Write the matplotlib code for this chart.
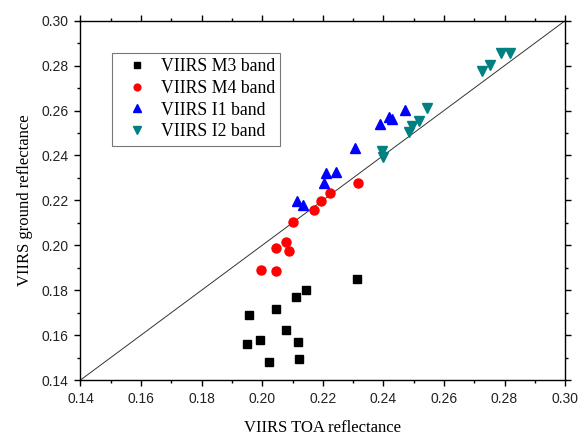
import matplotlib
matplotlib.use("Agg")
import matplotlib.pyplot as plt
from matplotlib.ticker import MultipleLocator, FormatStrFormatter

# TOA vs ground reflectance for each VIIRS band
m3_toa = [0.2312, 0.2146, 0.2113, 0.2047, 0.1957, 0.2079, 0.1993, 0.1949, 0.2118, 0.2021, 0.2121]
m3_ground = [0.1848, 0.1801, 0.1771, 0.1717, 0.1688, 0.1623, 0.1578, 0.1559, 0.1568, 0.1481, 0.1494]

m4_toa = [0.1995, 0.2047, 0.2047, 0.2078, 0.2089, 0.2101, 0.2171, 0.2195, 0.2225, 0.2315]
m4_ground = [0.1889, 0.1886, 0.1986, 0.2016, 0.1976, 0.2105, 0.2157, 0.2198, 0.2234, 0.2276]

i1_toa = [0.2116, 0.2136, 0.2204, 0.2211, 0.2244, 0.2307, 0.2390, 0.2420, 0.2429, 0.2470]
i1_ground = [0.2198, 0.2179, 0.2279, 0.2320, 0.2327, 0.2434, 0.2538, 0.2570, 0.2561, 0.2602]

i2_toa = [0.2395, 0.2400, 0.2486, 0.2494, 0.2519, 0.2545, 0.2727, 0.2752, 0.2789, 0.2818]
i2_ground = [0.2421, 0.2394, 0.2506, 0.2530, 0.2554, 0.2610, 0.2776, 0.2802, 0.2855, 0.2857]

serif = ["Liberation Serif", "DejaVu Serif"]
sans = ["Liberation Sans", "DejaVu Sans"]
plt.rcParams["font.family"] = sans

fig = plt.figure(figsize=(5.79, 4.37), dpi=100)
ax = fig.add_axes([0.139, 0.1304, 0.837, 0.8222])

# 1:1 reference line
ax.plot([0.14, 0.30], [0.14, 0.30], color="#333333", lw=0.7, zorder=1)

ax.plot(m3_toa, m3_ground, "s", color="black", ms=6, ls="none", label="VIIRS M3 band")
ax.plot(m4_toa, m4_ground, "o", color="#ff0000", ms=6.5, ls="none", label="VIIRS M4 band")
ax.plot(i1_toa, i1_ground, "^", color="#0000ff", ms=7.5, ls="none", label="VIIRS I1 band")
ax.plot(i2_toa, i2_ground, "v", color="#008080", ms=7.5, ls="none", label="VIIRS I2 band")

ax.set_xlim(0.14, 0.30)
ax.set_ylim(0.14, 0.30)
ax.xaxis.set_major_locator(MultipleLocator(0.02))
ax.yaxis.set_major_locator(MultipleLocator(0.02))
ax.xaxis.set_minor_locator(MultipleLocator(0.01))
ax.yaxis.set_minor_locator(MultipleLocator(0.01))
ax.xaxis.set_major_formatter(FormatStrFormatter("%.2f"))
ax.yaxis.set_major_formatter(FormatStrFormatter("%.2f"))
ax.tick_params(which="both", direction="out", top=True, right=True, labelsize=10,
               width=1, labelcolor="#222222")
ax.tick_params(which="major", length=4.5, pad=4)
ax.tick_params(which="minor", length=2.5)
for s in ax.spines.values():
    s.set_linewidth(1)

ax.set_xlabel("VIIRS TOA reflectance", family=serif, fontsize=12, labelpad=10)
ax.set_ylabel("VIIRS ground reflectance", family=serif, fontsize=12, labelpad=6)

leg = ax.legend(loc="upper left", bbox_to_anchor=(0.065, 0.91), borderaxespad=0,
                prop={"family": serif, "size": 12.8},
                fancybox=False, edgecolor="#555555", markerscale=0.75, handletextpad=0.25,
                labelspacing=0.26, borderpad=0.3, handlelength=2.2)
leg.get_frame().set_linewidth(0.8)

fig.savefig("out.png", dpi=100)
